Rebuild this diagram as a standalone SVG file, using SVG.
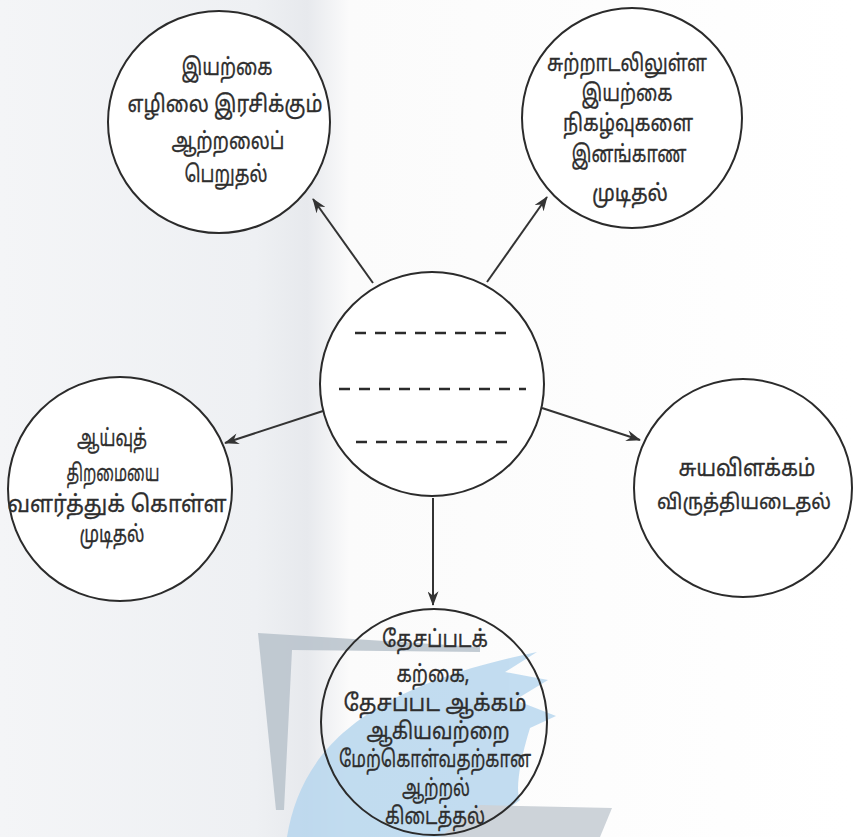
<svg xmlns="http://www.w3.org/2000/svg" width="853" height="837" viewBox="0 0 853 837">
<defs>
<style>
.node circle{fill:#fff;stroke:#2b2b2b;stroke-width:2}
.node text{font-family:"Noto Sans Tamil","Noto Sans","Lato","DejaVu Sans",sans-serif;font-size:23px;fill:#2e2e2e;stroke:#2e2e2e;stroke-width:0.3;text-anchor:middle}
.conn line{stroke:#333;stroke-width:2;marker-end:url(#ah)}
.dash{stroke:#2b2b2b;stroke-width:2.6;stroke-dasharray:11 9}
</style>
<marker id="ah" viewBox="0 0 16 12" refX="15" refY="6" markerWidth="15" markerHeight="11" markerUnits="userSpaceOnUse" orient="auto">
<path d="M0,0 L16,6 L0,12 L5,6 Z" fill="#333"/>
</marker>
<linearGradient id="bg" x1="0" x2="1" y1="0" y2="0">
<stop offset="0" stop-color="#f4f5f7"/>
<stop offset="0.3" stop-color="#eef0f3"/>
<stop offset="0.36" stop-color="#e7e9ed"/>
<stop offset="0.41" stop-color="#fbfbfb"/>
<stop offset="1" stop-color="#ffffff"/>
</linearGradient>
</defs>
<rect width="853" height="837" fill="url(#bg)"/>
<g id="watermark" opacity="0.85">
<path d="M258,633 L480,647 L480,652 L292,650 L284,810 L276,810 Z" fill="#b9c3cc"/>
<path d="M287,837 C300,760 350,690 537,652 L505,672 L548,680 L515,700 L556,716 L530,728 C520,760 515,790 520,800 L470,837 Z" fill="#b8d7ee"/>
<path d="M440,837 L480,805 L612,808 L600,837 Z" fill="#c5ccd3"/>
</g>
<g id="connectors" class="conn">
<line x1="373" y1="283" x2="313" y2="199"/>
<line x1="487" y1="282" x2="547" y2="197"/>
<line x1="323" y1="411" x2="225" y2="443"/>
<line x1="542" y1="408" x2="640" y2="440"/>
<line x1="433" y1="498" x2="433" y2="605"/>
</g>
<g id="center" class="node">
<circle cx="432" cy="384" r="112"/>
<line class="dash" x1="355" y1="333" x2="510" y2="333"/>
<line class="dash" x1="339" y1="389" x2="526" y2="389"/>
<line class="dash" x1="356" y1="442" x2="512" y2="442"/>
</g>
<g id="n-topleft" class="node">
<circle cx="219" cy="122" r="111"/>
<text x="227" y="75" textLength="91" lengthAdjust="spacingAndGlyphs">இயற்கை</text>
<text x="225" y="112" textLength="195" lengthAdjust="spacingAndGlyphs">எழிலை  இரசிக்கும்</text>
<text x="228" y="149" textLength="113" lengthAdjust="spacingAndGlyphs">ஆற்றலைப்</text>
<text x="226" y="182" textLength="83" lengthAdjust="spacingAndGlyphs">பெறுதல்</text>
</g>
<g id="n-topright" class="node">
<circle cx="632" cy="118" r="110"/>
<text x="627" y="71" textLength="160" lengthAdjust="spacingAndGlyphs">சுற்றாடலிலுள்ள</text>
<text x="627" y="101" textLength="91" lengthAdjust="spacingAndGlyphs">இயற்கை</text>
<text x="628" y="131" textLength="130" lengthAdjust="spacingAndGlyphs">நிகழ்வுகளை</text>
<text x="629" y="162" textLength="115" lengthAdjust="spacingAndGlyphs">இனங்காண</text>
<text x="630" y="201" textLength="76" lengthAdjust="spacingAndGlyphs">முடிதல்</text>
</g>
<g id="n-left" class="node">
<circle cx="120" cy="489" r="112"/>
<text x="112" y="446" textLength="70" lengthAdjust="spacingAndGlyphs">ஆய்வுத்</text>
<text x="113" y="481" textLength="93" lengthAdjust="spacingAndGlyphs">திறமையை</text>
<text x="117" y="512" textLength="219" lengthAdjust="spacingAndGlyphs">வளர்த்துக்  கொள்ள</text>
<text x="112" y="542" textLength="65" lengthAdjust="spacingAndGlyphs">முடிதல்</text>
</g>
<g id="n-right" class="node">
<circle cx="743" cy="488" r="109"/>
<text x="747" y="476" textLength="137" lengthAdjust="spacingAndGlyphs">சுயவிளக்கம்</text>
<text x="744" y="509" textLength="174" lengthAdjust="spacingAndGlyphs" style="font-size:21px">விருத்தியடைதல்</text>
</g>
<g id="n-bottom" class="node">
<circle cx="434" cy="722" r="113" style="fill:none"/>
<text x="435" y="647" textLength="106" lengthAdjust="spacingAndGlyphs">தேசப்படக்</text>
<text x="433" y="682" textLength="73" lengthAdjust="spacingAndGlyphs">கற்கை,</text>
<text x="435" y="711" textLength="183" lengthAdjust="spacingAndGlyphs">தேசப்பட  ஆக்கம்</text>
<text x="438" y="739" textLength="143" lengthAdjust="spacingAndGlyphs">ஆகியவற்றை</text>
<text x="435" y="767" textLength="192" lengthAdjust="spacingAndGlyphs">மேற்கொள்வதற்கான</text>
<text x="436" y="796" textLength="68" lengthAdjust="spacingAndGlyphs">ஆற்றல்</text>
<text x="435" y="824" textLength="100" lengthAdjust="spacingAndGlyphs">கிடைத்தல்</text>
</g>
</svg>
